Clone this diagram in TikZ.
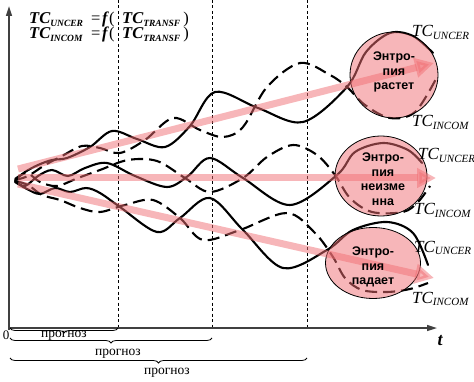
\documentclass[tikz,border=0pt]{standalone}
\usepackage{fontspec}
\setmainfont{Liberation Serif}
\newfontfamily\arialfont{Liberation Sans}
\usetikzlibrary{arrows.meta,shapes.geometric,decorations.pathreplacing}
\definecolor{pinkzone}{RGB}{240,110,115}
\tikzset{
axisline/.style={draw=black!75, line width=1.6pt, -{Triangle[width=6pt,length=10pt]}},
stage/.style={line width=0.7pt, dash pattern=on 3pt off 2.5pt},
uncer/.style={line width=2.1pt, smooth, tension=0.55, line cap=round},
incom/.style={uncer, line cap=butt, dash pattern=on 12pt off 6pt},
entropy/.style={draw=black, line width=0.8pt, ellipse, fill=pinkzone,
	fill opacity=0.5, inner sep=0pt},
trend/.style={draw=pinkzone, line width=7pt, opacity=0.5,
	-{Triangle[width=19pt,length=19pt]}},
forecast/.style={decorate, decoration={brace, mirror, amplitude=5pt}, line width=0.8pt},
formula/.style={anchor=base west, inner sep=0pt, font=\fontsize{16.5}{16.5}\selectfont},
tclabel/.style={anchor=base west, inner sep=0pt, font=\fontsize{17}{17}\selectfont},
zonetext/.style={align=center, inner sep=0pt,
	font=\arialfont\bfseries\fontsize{12.5}{14.5}\selectfont}
}
\newcommand{\tcb}[1]{\textbf{\textit{TC\textsubscript{\fontsize{9.5}{9.5}\selectfont#1}}}}
\newcommand{\tci}[1]{\textit{TC\textsubscript{\fontsize{11}{11}\selectfont#1}}}

\begin{document}
\begin{tikzpicture}[x=1pt, y=-1pt]
	\useasboundingbox (0,0) rectangle (474,382);
	\foreach \x in {118,212,307}
		\draw[stage] (\x,0) -- (\x,328);
	\draw[axisline] (9,330) -- (9,6);
	\draw[axisline] (8,328) -- (437,328);
	\node[font=\fontsize{13}{13}\selectfont] (zero) at (6,335) {0};
	\node[font=\fontsize{18}{18}\selectfont\bfseries\itshape] (time) at (440,341) {t};

	\node[formula] (uncerlhs) at (29,24) {\tcb{UNCER}};
	\node[formula] (uncereq) at (91,24) {=};
	\node[formula] (uncerf) at (102,24) {\textbf{\textit{f}}(};
	\node[formula] (uncerrhs) at (122,24) {\tcb{TRANSF}\,)};
	\node[formula] (incomlhs) at (29,39) {\tcb{INCOM}};
	\node[formula] (incomeq) at (91,39) {=};
	\node[formula] (incomf) at (102,39) {\textbf{\textit{f}}(};
	\node[formula] (incomrhs) at (122,39) {\tcb{TRANSF}\,)};

	\draw[uncer] plot coordinates {(15,180) (25,172) (38,165) (52,160) (67,158) (90,147) (112,131)
		(137,139) (165,147) (190,126) (215,92) (258,108) (303,122) (347,87) (366,52) (390,33)
		(413,36) (433,53)};
	\draw[incom] plot coordinates {(15,180) (28,176) (45,165) (62,156) (82,146) (100,148) (120,153)
		(145,140) (173,118) (200,130) (223,137) (243,127) (267,87) (300,63) (330,75) (347,87)
		(365,105) (390,118) (415,112) (437,77)};
	\draw[uncer] plot coordinates {(15,181) (25,186) (38,176) (52,170) (68,176) (85,168) (107,163)
		(135,176) (167,187) (188,176) (210,158) (243,178) (290,205) (337,175) (355,152) (383,143)
		(408,150) (422,163)};
	\draw[incom] plot coordinates {(15,179) (27,173) (40,182) (57,186) (78,178) (100,170) (128,160)
		(157,161) (185,178) (210,192) (243,178) (267,157) (293,145) (317,155) (335,175) (350,198)
		(372,212) (403,212) (418,202) (430,186)};
	\draw[uncer] plot coordinates {(15,182) (27,189) (40,194) (55,188) (70,192) (86,188) (100,193)
		(120,207) (157,232) (180,218) (210,198) (243,230) (283,268) (327,250) (353,230) (387,222)
		(413,233) (428,265)};
	\draw[incom] plot coordinates {(15,181) (28,185) (42,195) (60,200) (80,208) (100,212) (125,205)
		(153,200) (180,218) (203,240) (240,230) (287,213) (315,233) (333,257) (345,278) (362,290)
		(387,292) (410,289) (428,283)};

	\node[entropy, minimum width=88pt, minimum height=86pt] (grow) at (394,75) {};
	\node[entropy, minimum width=92pt, minimum height=80pt] (keep) at (381,176) {};
	\node[entropy, minimum width=95pt, minimum height=71pt] (fall) at (373,263) {};

	\coordinate (startA) at (18,169);
	\coordinate (startB) at (18,178);
	\coordinate (startC) at (18,184);
	\coordinate (tipA) at (434,63);
	\coordinate (tipB) at (436,178);
	\coordinate (tipC) at (434,278);
	\draw[trend] (startA) -- (tipA);
	\draw[trend] (startB) -- (tipB);
	\draw[trend] (startC) -- (tipC);

	\node[zonetext] (growtext) at (394,72) {Энтро-\\пия\\растет};
	\node[zonetext] (keeptext) at (383,179) {Энтро-\\пия\\неизме\\нна};
	\node[zonetext] (falltext) at (373,267) {Энтро-\\пия\\падает};

	\node[tclabel] (growU) at (412,37) {\tci{UNCER}};
	\node[tclabel] (growI) at (412,127) {\tci{INCOM}};
	\node[tclabel] (keepU) at (418,160) {\tci{UNCER}};
	\node[tclabel] (keepI) at (414,215) {\tci{INCOM}};
	\node[tclabel] (fallU) at (414,252) {\tci{UNCER}};
	\node[tclabel] (fallI) at (412,303) {\tci{INCOM}};

	\draw[forecast] (10,328) -- (118,328);
	\draw[forecast] (10,338) -- (212,338);
	\draw[forecast] (10,358) -- (307,358);
	\node[font=\fontsize{13.5}{13.5}\selectfont] (stageA) at (64,336) {прогноз};
	\node[font=\fontsize{13.5}{13.5}\selectfont] (stageB) at (118,354) {прогноз};
	\node[font=\fontsize{13.5}{13.5}\selectfont] (stageC) at (167,373) {прогноз};
\end{tikzpicture}
\end{document}
